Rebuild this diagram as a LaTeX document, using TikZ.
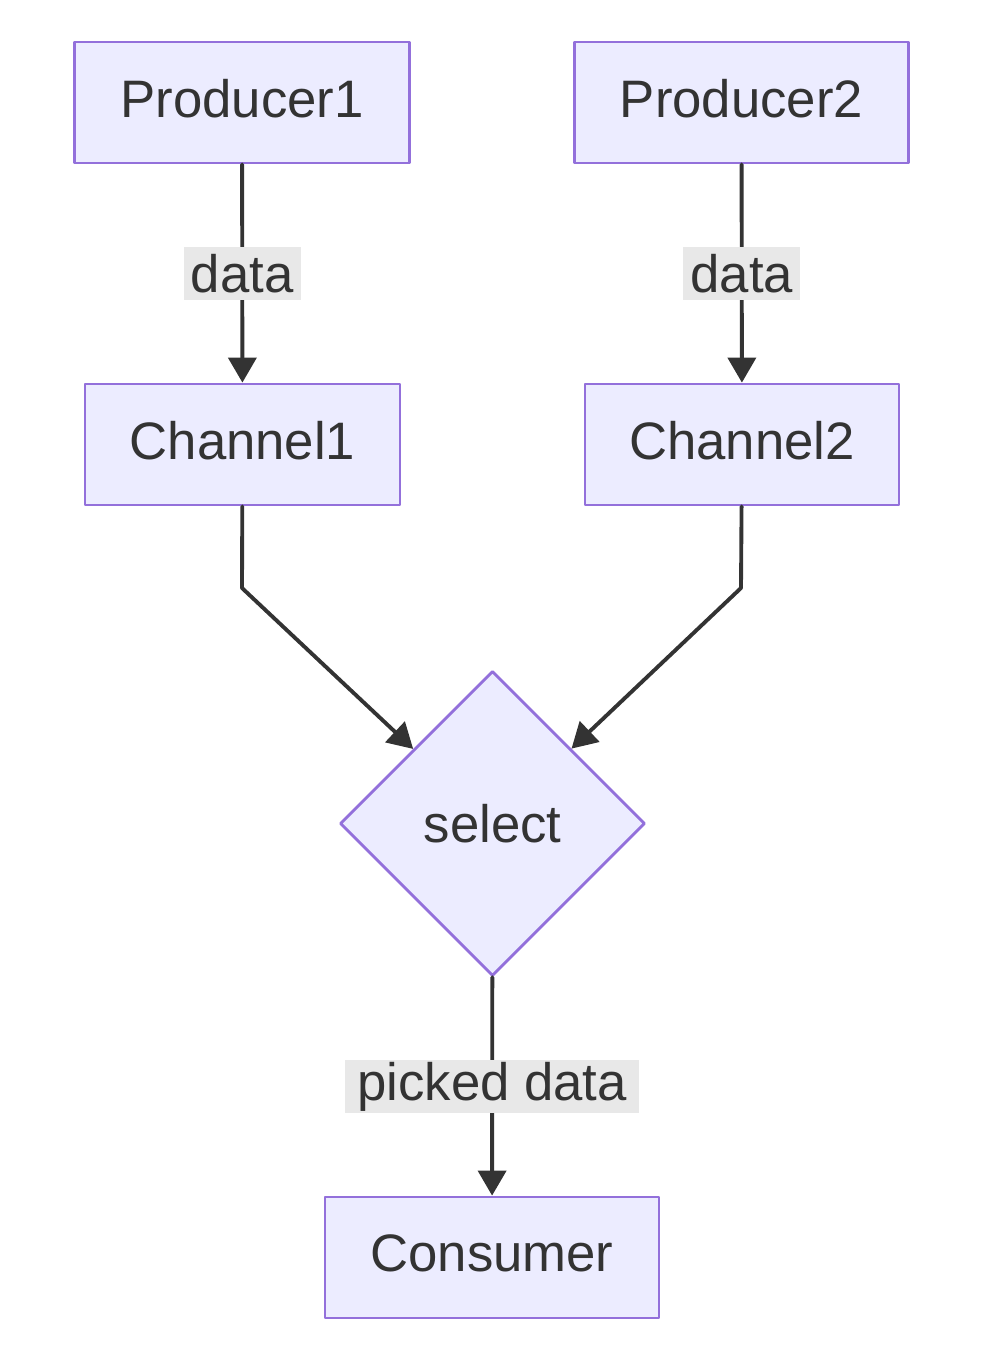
\documentclass[tikz,border=0pt]{standalone}
\usepackage{fontspec}
\setmainfont{Liberation Sans}
\usetikzlibrary{arrows.meta,shapes.geometric}
\definecolor{boxfill}{HTML}{ECECFF}
\definecolor{boxline}{HTML}{9370DB}
\definecolor{edgeline}{HTML}{333333}
\definecolor{lblfill}{HTML}{E8E8E8}

\begin{document}
\begin{tikzpicture}[line cap=round,line join=round,>={Triangle[length=0.25cm,width=0.28cm]},x=1cm,y=1cm,
    box/.style={draw=boxline,fill=boxfill,line width=0.8pt,minimum height=1.21cm,text depth=0.08cm,text=edgeline,font=\fontsize{15}{18}\selectfont},
    decision/.style={diamond,aspect=1,draw=boxline,fill=boxfill,line width=0.8pt,minimum width=3.05cm,minimum height=3.05cm,inner sep=0pt,text=edgeline,font=\fontsize{15}{18}\selectfont},
    lbl/.style={fill=lblfill,inner xsep=0.07cm,inner ysep=0pt,minimum height=0.53cm,text=edgeline,font=\fontsize{15}{18}\selectfont},
    flow/.style={draw=edgeline,line width=1.1pt,->}]
                \useasboundingbox (0,0) rectangle (9.9,-13.68);
                % nodes
                \node[box,minimum width=3.35cm] (prod1) at (2.42,-1.025) {Producer1};
                \node[box,minimum width=3.34cm] (prod2) at (7.415,-1.025) {Producer2};
                \node[box,minimum width=3.15cm] (chan1) at (2.425,-4.445) {Channel1};
                \node[box,minimum width=3.14cm] (chan2) at (7.42,-4.445) {Channel2};
                \node[decision] (sel) at (4.925,-8.235) {select};
                \node[box,minimum width=3.34cm] (cons) at (4.92,-12.575) {Consumer};
                \coordinate (bend1) at (2.42,-5.88);
                \coordinate (bend2) at (7.41,-5.88);
                % edges
                \draw[flow] (prod1) -- node[lbl] {data} (chan1);
                \draw[flow] (prod2) -- node[lbl] {data} (chan2);
                \draw[flow] (chan1) -- (bend1) -- (sel);
                \draw[flow] (chan2) -- (bend2) -- (sel);
                \draw[flow] (sel) -- node[lbl,inner xsep=0.12cm] {picked data} (cons);
            \end{tikzpicture}
\end{document}
